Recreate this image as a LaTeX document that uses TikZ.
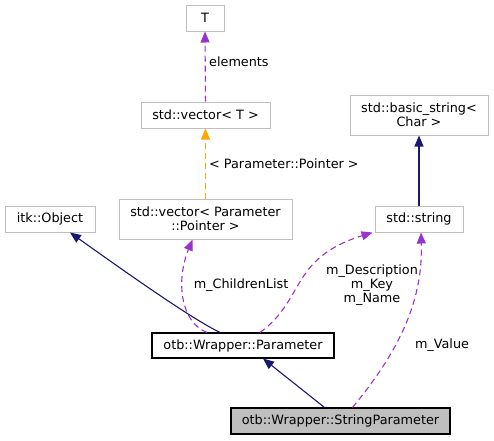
\documentclass[tikz,border=0pt]{standalone}
\usepackage{fontspec}
\setmainfont{DejaVu Sans}
\usetikzlibrary{arrows.meta,calc}
\definecolor{inhblue}{HTML}{191970}
\definecolor{usgpurple}{HTML}{9A32CD}
\definecolor{tmplorange}{HTML}{FFA500}
\definecolor{bgray}{HTML}{BFBFBF}
\begin{document}
\begin{tikzpicture}[x=1pt,y=-1pt,
  every node/.style={font=\fontsize{12.8}{14.3}\selectfont, text=black},
  cls/.style={draw=bgray, line width=1pt, inner sep=0pt, align=center, minimum height=26pt},
  cur/.style={draw=black, line width=1.1pt, inner sep=0pt, align=center, minimum height=25pt},
  tip/.style={-{Triangle[length=11pt,width=9pt]}},
  inhline/.style={tip, color=inhblue, line width=1.1pt},
  usgline/.style={tip, color=usgpurple, line width=1.1pt, dash pattern=on 6pt off 4pt},
  tplline/.style={tip, color=tmplorange, line width=1.2pt, dash pattern=on 6pt off 4pt},
  lbl/.style={inner sep=0pt, align=center}]
\useasboundingbox (0,0) rectangle (494,440);
\node[cls, minimum width=38pt] (T) at (205,18) {T};
\node[cls, minimum width=129pt] (vecT) at (205.5,115) {std::vector< T >};
\node[cls, minimum width=173pt, minimum height=40pt] (vecP) at (205.5,219) {std::vector< Parameter\\::Pointer >};
\node[cls, minimum width=90pt] (itk) at (50,219) {itk::Object};
\node[cls, minimum width=138pt, minimum height=40pt] (basic) at (419,115) {std::basic\_string<\\Char >};
\node[cls, minimum width=88pt] (str) at (419,219) {std::string};
\node[cur, minimum width=182pt] (param) at (243,345.5) {otb::Wrapper::Parameter};
\node[cur, minimum width=219pt, minimum height=26pt, fill=bgray] (sparam) at (340.5,421) {otb::Wrapper::StringParameter};

\draw[usgline] (vecT.north) -- (T.south);
\node[lbl, anchor=west] (lelem) at (209,62) {elements};
\draw[tplline] (vecP.north) -- (vecT.south);
\node[lbl, anchor=west] (lptr) at (209,164) {< Parameter::Pointer >};
\draw[inhline] (str.north) -- (basic.south);

\draw[inhline] ([xshift=-23pt]param.north) .. controls (190,318) and (120,268) .. ([xshift=20pt]itk.south);
\draw[usgline] ([xshift=-36pt]param.north) .. controls (180,322) and (176,280) .. ([xshift=-13pt]vecP.south);
\node[lbl] (lchild) at (241,285) {m\_ChildrenList};
\draw[usgline] ([xshift=17pt]param.north) .. controls (305,300) and (290,258) .. ([xshift=-2pt]str.south west);
\node[lbl] (ldesc) at (372,285) {m\_Description\\m\_Key\\m\_Name};
\draw[usgline] ([xshift=12pt]sparam.north) .. controls (400,350) and (423,300) .. ([xshift=2pt]str.south);
\node[lbl] (lval) at (442,345) {m\_Value};
\draw[inhline] ([xshift=-16pt]sparam.north) -- ([xshift=20pt]param.south);
\end{tikzpicture}
\end{document}
